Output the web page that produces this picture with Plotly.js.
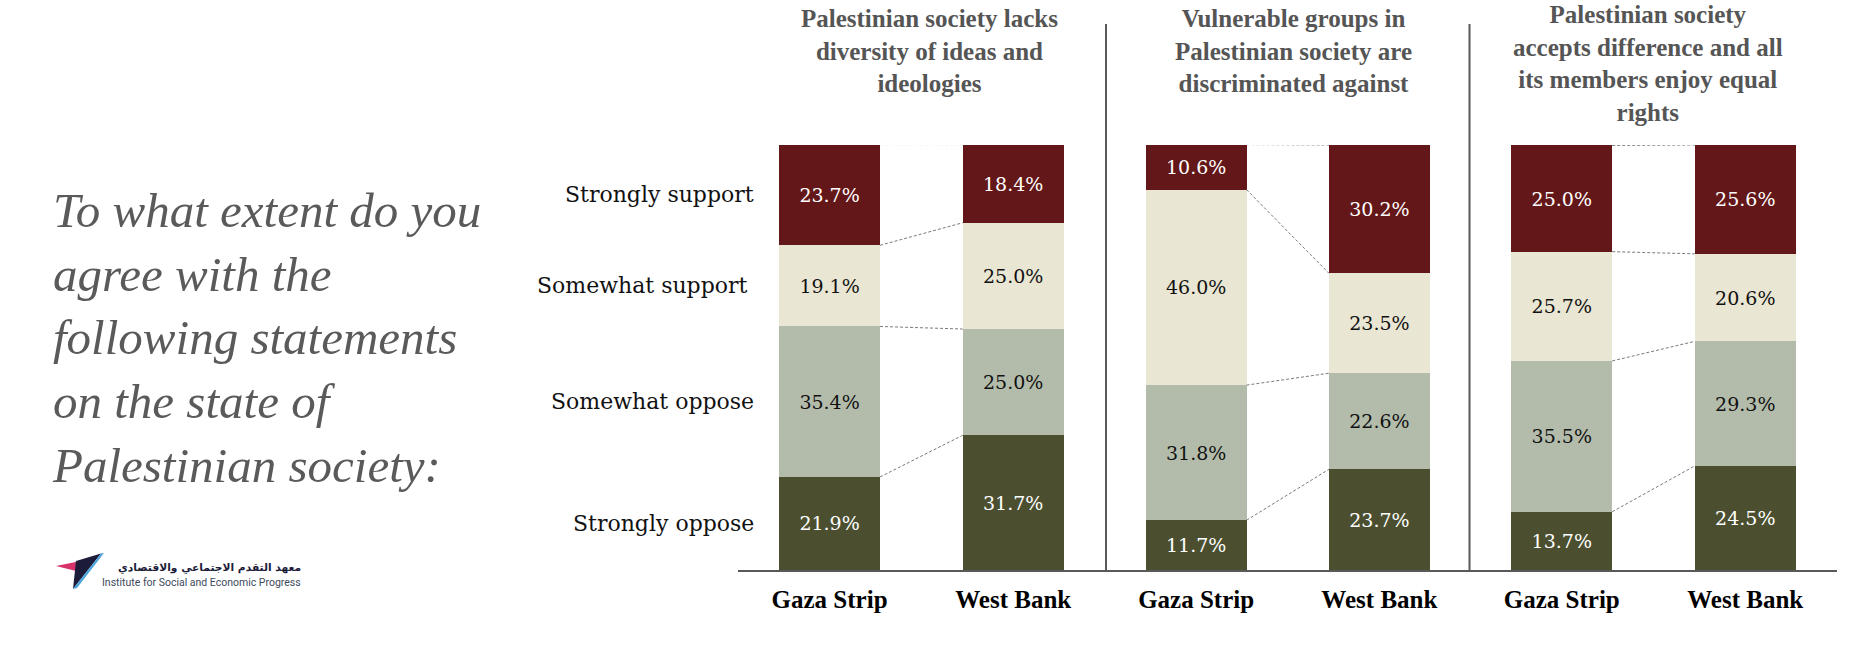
<!DOCTYPE html>
<html>
<head>
<meta charset="utf-8">
<script src="https://cdn.plot.ly/plotly-3.0.1.min.js"></script>
<style>
  html, body { margin: 0; padding: 0; background: #ffffff; }
  #chart { width: 1870px; height: 656px; }
</style>
</head>
<body>
<div id="chart"></div>
<script>
// Response scale, stacked from the bottom of each bar upwards
const responses = ['Strongly oppose', 'Somewhat oppose', 'Somewhat support', 'Strongly support'];
const responseColors = ['#4B4F30', '#B3BCAB', '#E9E6D3', '#641719'];
const labelColors = ['#ffffff', '#111111', '#111111', '#ffffff'];

const regions = ['Gaza Strip', 'West Bank'];

const statements = [
  'Palestinian society lacks<br>diversity of ideas and<br>ideologies',
  'Vulnerable groups in<br>Palestinian society are<br>discriminated against',
  'Palestinian society<br>accepts difference and all<br>its members enjoy equal<br>rights'
];

// Shares (%) in the order of `responses`
const lacksDiversityGaza = [21.9, 35.4, 19.1, 23.7];
const lacksDiversityWestBank = [31.7, 25.0, 25.0, 18.4];
const discriminatedGaza = [11.7, 31.8, 46.0, 10.6];
const discriminatedWestBank = [23.7, 22.6, 23.5, 30.2];
const equalRightsGaza = [13.7, 35.5, 25.7, 25.0];
const equalRightsWestBank = [24.5, 29.3, 20.6, 25.6];

const question = 'To what extent do you<br>agree with the<br>following statements<br>on the state of<br>Palestinian society:';
const instituteArabic = 'معهد التقدم الاجتماعي والاقتصادي';
const instituteEnglish = 'Institute for Social and Economic Progress';

const panels = [
  [lacksDiversityGaza, lacksDiversityWestBank],
  [discriminatedGaza, discriminatedWestBank],
  [equalRightsGaza, equalRightsWestBank]
];

const W = 1870, H = 656;
const px = x => x / W;
const py = y => 1 - y / H;

const BAR_WIDTH = 0.55;
const panelDomains = [[737.75, 1105], [1104.5, 1471], [1470, 1837]];
const titleCenters = [929, 1293, 1648];
const titleTops = [3, 3, -1];

const serif = 'DejaVu Serif, serif';
const titleSerif = 'Liberation Serif, Times New Roman, serif';

const traces = [];
panels.forEach((panel, p) => {
  const xa = p === 0 ? 'x' : 'x' + (p + 1);
  responses.forEach((resp, k) => {
    const vals = panel.map(series => series[k]);
    traces.push({
      type: 'bar',
      name: resp,
      x: regions,
      y: vals,
      xaxis: xa,
      yaxis: 'y',
      width: BAR_WIDTH,
      marker: { color: responseColors[k], line: { width: 0 } },
      text: vals.map(v => v.toFixed(1) + '%'),
      textposition: 'inside',
      insidetextanchor: 'middle',
      textangle: 0,
      textfont: { family: serif, size: 19, color: labelColors[k] },
      hoverinfo: 'skip',
      showlegend: false
    });
  });
});

// Cumulative tops of each stacked segment
const cumulative = arr => arr.reduce((acc, v) => { acc.push((acc.length ? acc[acc.length - 1] : 0) + v); return acc; }, []);

const shapes = [];
// Dashed connectors between matching segment boundaries of the two bars
panels.forEach((panel, p) => {
  const xa = p === 0 ? 'x' : 'x' + (p + 1);
  const cg = cumulative(panel[0]);
  const cw = cumulative(panel[1]);
  for (let k = 0; k < responses.length; k++) {
    shapes.push({
      type: 'line', xref: xa, yref: 'y',
      x0: BAR_WIDTH / 2, y0: cg[k], x1: 1 - BAR_WIDTH / 2, y1: cw[k],
      line: { color: '#7a7a7a', width: 1, dash: '3px,2px' }
    });
  }
});
// Vertical separators between the statements
[1106, 1469.5].forEach(x => {
  shapes.push({
    type: 'line', xref: 'paper', yref: 'paper',
    x0: px(x), x1: px(x), y0: py(24), y1: py(570),
    line: { color: '#595959', width: 2 }
  });
});

// Institute logo mark
const poly = pts => 'M ' + pts.map(([x, y]) => px(x) + ',' + py(y)).join(' L ') + ' Z';
shapes.push({ type: 'path', xref: 'paper', yref: 'paper', path: poly([[56, 566], [88, 559.5], [80, 572]]), fillcolor: '#D6336C', line: { width: 0 } });
shapes.push({ type: 'path', xref: 'paper', yref: 'paper', path: poly([[76, 561], [101, 553.5], [73, 589]]), fillcolor: '#1C1C3A', line: { width: 0 } });
shapes.push({ type: 'path', xref: 'paper', yref: 'paper', path: poly([[101, 553.5], [104, 553], [77, 588], [73, 589]]), fillcolor: '#4BA3D9', line: { width: 0 } });

const annotations = [];

// Statement titles
statements.forEach((t, p) => {
  annotations.push({
    xref: 'paper', yref: 'paper',
    x: px(titleCenters[p]), y: py(titleTops[p]),
    xanchor: 'center', yanchor: 'top',
    text: '<b>' + t + '</b>', showarrow: false, align: 'center',
    font: { family: titleSerif, size: 25, color: '#555555' }
  });
});

// Response labels, aligned with the segments of the first bar
const firstBar = panels[0][0];
const firstCum = cumulative(firstBar);
responses.forEach((resp, k) => {
  annotations.push({
    xref: 'paper', yref: 'y',
    x: px(756), y: firstCum[k] - firstBar[k] / 2,
    xanchor: 'right', yanchor: 'middle',
    text: resp === 'Somewhat support' ? resp + '\u00a0' : resp,
    showarrow: false,
    font: { family: serif, size: 22, color: '#111111' }
  });
});

// Question text
annotations.push({
  xref: 'paper', yref: 'paper',
  x: px(50), y: py(338),
  xanchor: 'left', yanchor: 'middle',
  text: '<i>' + question + '</i>', showarrow: false, align: 'left',
  font: { family: 'Liberation Serif, Times New Roman, serif', size: 49, color: '#5A5A5A' }
});

// Institute name beside the logo mark
annotations.push({
  xref: 'paper', yref: 'paper',
  x: px(303), y: py(567), xanchor: 'right', yanchor: 'middle',
  text: '<b>' + instituteArabic + '</b>', showarrow: false,
  font: { family: 'DejaVu Sans, sans-serif', size: 10.7, color: '#1C1C3A' }
});
annotations.push({
  xref: 'paper', yref: 'paper',
  x: px(303), y: py(582), xanchor: 'right', yanchor: 'middle',
  text: instituteEnglish, showarrow: false,
  font: { family: 'Liberation Sans Narrow, Roboto, sans-serif', size: 10.5, color: '#3E4A5C' }
});

const xaxisBase = {
  type: 'category',
  anchor: 'y',
  range: [-0.5, 1.5],
  showgrid: false,
  zeroline: false,
  showline: true,
  linecolor: '#595959',
  linewidth: 2,
  ticks: '',
  ticklabelstandoff: 6,
  tickfont: { family: titleSerif, size: 25, color: '#000000', weight: 'bold' },
  fixedrange: true
};

const layout = {
  width: W,
  height: H,
  margin: { l: 0, r: 0, t: 0, b: 0, pad: 0 },
  paper_bgcolor: '#ffffff',
  plot_bgcolor: 'rgba(0,0,0,0)',
  barmode: 'stack',
  showlegend: false,
  xaxis: Object.assign({}, xaxisBase, { domain: [px(panelDomains[0][0]), px(panelDomains[0][1])] }),
  xaxis2: Object.assign({}, xaxisBase, { domain: [px(panelDomains[1][0]), px(panelDomains[1][1])] }),
  xaxis3: Object.assign({}, xaxisBase, { domain: [px(panelDomains[2][0]), px(panelDomains[2][1])] }),
  yaxis: {
    domain: [py(570), py(145)],
    range: [0, 100],
    showgrid: false, zeroline: false, showline: false,
    showticklabels: false, ticks: '', fixedrange: true
  },
  shapes: shapes,
  annotations: annotations
};

Plotly.newPlot('chart', traces, layout, { displayModeBar: false, staticPlot: true });
</script>
</body>
</html>
